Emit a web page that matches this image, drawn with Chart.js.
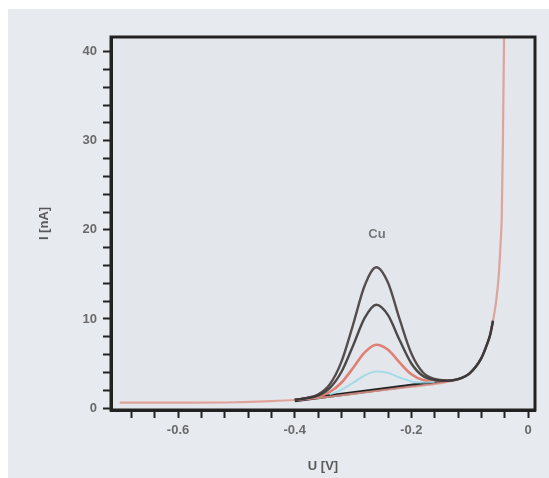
<!DOCTYPE html>
<html><head><meta charset="utf-8">
<script src="https://cdn.jsdelivr.net/npm/chart.js@4/dist/chart.umd.min.js"></script>
<style>
html,body{margin:0;padding:0;background:#fff;}
#wrap{position:relative;width:549px;height:478px;overflow:hidden;}
#bg{position:absolute;left:8px;top:9px;right:0;bottom:0;background:#e7eaee;}
#c{position:absolute;left:0;top:0;}
</style></head>
<body>
<div id="wrap"><div id="bg"></div><canvas id="c" width="549" height="478"></canvas></div>
<script>
// Potential (V) and current (nA)
const redX = [-0.70,-0.60,-0.50,-0.45,-0.40,-0.35,-0.30,-0.25,-0.20,-0.15,-0.12,-0.11,-0.10,-0.09,-0.08,-0.07,-0.065,-0.06,-0.055,-0.05,-0.047,-0.045,-0.043,-0.041,-0.039];
const redY = [0.6,0.6,0.65,0.75,0.9,1.2,1.6,2.0,2.4,2.8,3.2,3.5,3.9,4.6,5.6,7.2,8.2,9.8,11.8,15,18.5,21.5,30,42,50];
const peakX = [-0.40,-0.38,-0.36,-0.34,-0.32,-0.30,-0.28,-0.26,-0.24,-0.22,-0.20,-0.18,-0.16,-0.14,-0.12,-0.10,-0.08,-0.07,-0.065,-0.06];
const cuHigh = [0.91,1.12,1.51,2.64,5.18,9.34,13.76,15.8,14.06,9.94,6.13,3.99,3.26,3.1,3.25,3.9,5.6,7.2,8.2,9.8];
const cuMid  = [0.91,1.10,1.40,2.24,4.05,7.0,10.13,11.6,10.43,7.6,5.0,3.59,3.15,3.05,3.25,3.9,5.6,7.2,8.2,9.8];
const cuLow  = [0.9,1.08,1.28,1.80,2.84,4.5,6.24,7.1,6.54,5.1,3.79,3.15,3.03,3.1];
const blankX = [-0.34,-0.32,-0.30,-0.28,-0.26,-0.24,-0.22,-0.20,-0.18,-0.16];
const blankY = [1.51,2.04,2.83,3.65,4.1,3.95,3.43,2.99,2.86,2.96];
const baseX = [-0.40,-0.14];
const baseY = [0.85,3.05];
const xMajor = [-0.6,-0.4,-0.2,0];
const yMajor = [0,10,20,30,40];
const peakLabel = 'Cu';
const peakLabelPos = [-0.259, 19.5];

const pts = (xs, ys) => ys.map((y, i) => ({x: xs[i], y: y}));
const ds = (xs, ys, color, w) => ({data: pts(xs, ys), borderColor: color, borderWidth: w, pointRadius: 0, cubicInterpolationMode: 'monotone', fill: false});

const frame = {
  id: 'frame',
  afterDatasetsDraw(chart) {
    const a = chart.chartArea, ctx = chart.ctx;
    ctx.save();
    ctx.strokeStyle = '#222';
    ctx.lineWidth = 3;
    ctx.strokeRect(a.left, a.top, a.right - a.left, a.bottom - a.top);
    ctx.fillStyle = '#777';
    ctx.font = 'bold 13px "Liberation Sans", Arial, sans-serif';
    ctx.textAlign = 'center';
    ctx.textBaseline = 'middle';
    ctx.fillText(peakLabel, chart.scales.x.getPixelForValue(peakLabelPos[0]), chart.scales.y.getPixelForValue(peakLabelPos[1]));
    ctx.restore();
  }
};
const areaBg = {
  id: 'areaBg',
  beforeDraw(chart) {
    const a = chart.chartArea, ctx = chart.ctx;
    ctx.save();
    ctx.fillStyle = '#e3e7ec';
    ctx.fillRect(a.left, a.top, a.right - a.left, a.bottom - a.top);
    ctx.restore();
  }
};
const isMajor = (v, list) => list.some(m => Math.abs(m - v) < 1e-6);
const tickFont = {family: '"Liberation Sans", Arial, sans-serif', size: 13, weight: 'bold'};

new Chart(document.getElementById('c'), {
  type: 'line',
  data: {datasets: [
    ds(peakX, cuMid, 'rgba(60,55,55,0.9)', 2.4),
    ds(peakX, cuHigh, 'rgba(70,60,60,0.9)', 2.4),
    ds(redX, redY, 'rgba(222,150,140,0.85)', 2.2),
    ds(blankX, blankY, 'rgba(150,215,230,0.8)', 2),
    ds(peakX, cuLow, '#e07f74', 2.6),
    ds(baseX, baseY, '#222', 3.5)
  ]},
  plugins: [areaBg, frame],
  options: {
    responsive: false,
    animation: false,
    layout: {padding: {top: 37, right: 14, left: 0, bottom: 0}},
    plugins: {legend: {display: false}, tooltip: {enabled: false}},
    scales: {
      x: {
        type: 'linear', min: -0.715, max: 0.012,
        afterFit: s => { s.height = 68; },
        border: {color: '#222', width: 3},
        grid: {drawOnChartArea: false, color: '#222', tickLength: 8, tickWidth: 2},
        ticks: {stepSize: 0.04, includeBounds: false, autoSkip: false, maxRotation: 0, padding: 5,
          color: '#6a6a6a', font: tickFont,
          callback: v => isMajor(v, xMajor) ? (Math.abs(v) < 1e-6 ? '0' : v.toFixed(1)) : ''},
        title: {display: true, text: 'U [V]', color: '#5a5a5a', font: {family: '"Liberation Sans", Arial, sans-serif', size: 13, weight: 'bold'}, padding: {top: 0, bottom: 4}}
      },
      y: {
        type: 'linear', min: -0.22, max: 41.65,
        afterFit: s => { s.width = 111; },
        border: {color: '#222', width: 3},
        grid: {drawOnChartArea: false, color: '#222', tickLength: 8, tickWidth: 2},
        ticks: {stepSize: 2, includeBounds: false, autoSkip: false, padding: 6,
          color: '#6a6a6a', font: tickFont,
          callback: v => isMajor(v, yMajor) ? String(Math.round(v)) : ''},
        title: {display: true, text: 'I [nA]', color: '#5a5a5a', font: {family: '"Liberation Sans", Arial, sans-serif', size: 13, weight: 'bold'}, padding: {top: 37, bottom: 0}}
      }
    }
  }
});
</script>
</body></html>
